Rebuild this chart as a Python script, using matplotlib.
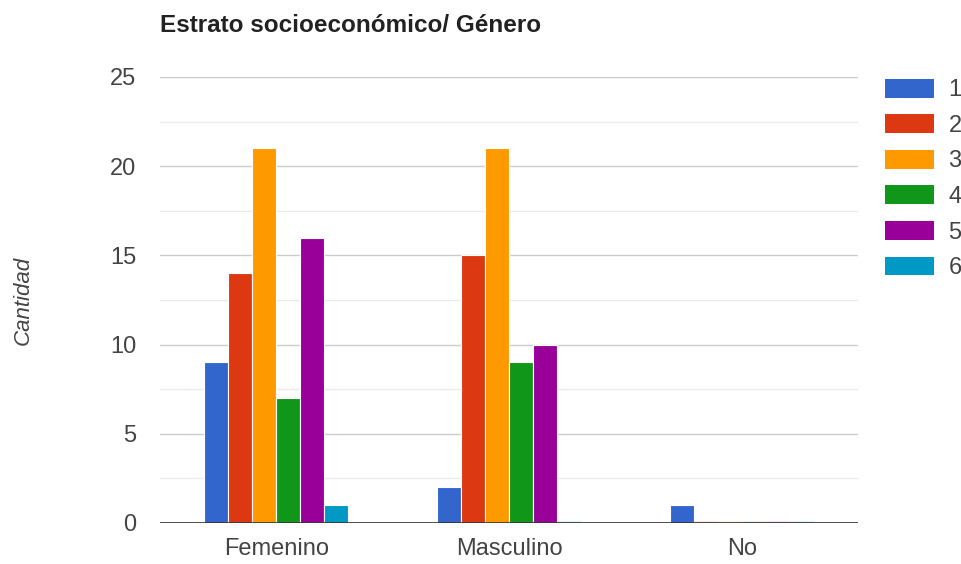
import numpy as np
import matplotlib.pyplot as plt
from matplotlib.patches import Patch

plt.rcParams['font.family'] = ['Liberation Sans', 'DejaVu Sans']

groups = ["Femenino", "Masculino", "No"]
series = ["1", "2", "3", "4", "5", "6"]
values = {
    "1": [9, 2, 1],
    "2": [14, 15, 0],
    "3": [21, 21, 0],
    "4": [7, 9, 0],
    "5": [16, 10, 0],
    "6": [1, 0, 0],
}
colors = ["#3366cc", "#dc3912", "#ff9900", "#109618", "#990099", "#0099c6"]

fig = plt.figure(figsize=(9.61, 5.64), dpi=100)
ax = fig.add_axes([0.1665, 0.0727, 0.7265, 0.7908])

x = np.arange(len(groups))
width = 0.1033
for i, (s, c) in enumerate(zip(series, colors)):
    vals = np.array(values[s], dtype=float)
    pos = x + (i - 2.5) * width
    nz = vals > 0
    ax.bar(pos[nz], vals[nz], width, color=c, edgecolor="white", linewidth=0.8, zorder=3)
    # zero values drawn as a faint sliver like the original
    ax.bar(pos[~nz], np.full((~nz).sum(), 0.12), width, color=c, alpha=0.35,
           edgecolor="white", linewidth=0.8, zorder=3)

ax.set_xlim(-0.5, 2.5)
ax.set_ylim(0, 25)
ax.set_yticks(np.arange(0, 26, 5))
ax.set_yticks(np.arange(2.5, 25, 5), minor=True)
ax.grid(axis="y", which="major", color="#cccccc", linewidth=1, zorder=0)
ax.grid(axis="y", which="minor", color="#ebebeb", linewidth=1, zorder=0)
ax.axhline(0, color="#333333", linewidth=1.2, zorder=4)
for sp in ax.spines.values():
    sp.set_visible(False)
ax.tick_params(axis="both", which="both", length=0, labelsize=17, colors="#444444")
ax.tick_params(axis="x", pad=11)
ax.tick_params(axis="y", pad=17)
ax.set_xticks(x)
ax.set_xticklabels(groups)
ax.set_ylabel("Cantidad", fontsize=16, style="italic", color="#444444", labelpad=55)

fig.text(160 / 961, 1 - 25 / 564, "Estrato socioeconómico/ Género", fontsize=17.5,
         fontweight="bold", color="#222222", va="center", ha="left")

handles = [Patch(facecolor=c, edgecolor="none") for c in colors]
fig.legend(handles, series, loc="upper left", bbox_to_anchor=(880 / 961, 1 - 74 / 564),
           frameon=False, fontsize=17, handlelength=2.1, handleheight=0.85,
           labelspacing=0.55, handletextpad=0.6, borderaxespad=0, borderpad=0.2,
           labelcolor="#444444")

fig.savefig("out.png", dpi=100)
